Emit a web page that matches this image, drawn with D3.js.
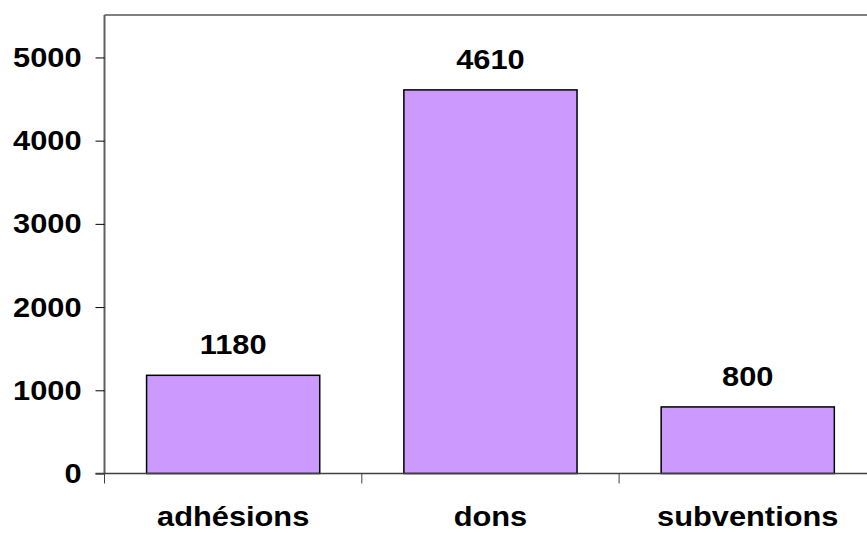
<!DOCTYPE html>
<html>
<head>
<meta charset="utf-8">
<script src="https://cdn.jsdelivr.net/npm/d3@7"></script>
<style>
  body { margin: 0; background: #fff; overflow: hidden; }
  svg { display: block; font-family: "Liberation Sans", Arial, sans-serif; font-weight: bold; }
</style>
</head>
<body>
<script>
// données
const categories = ["adhésions", "dons", "subventions"];
const values = [1180, 4610, 800];
const yTicks = [0, 1000, 2000, 3000, 4000, 5000];

const width = 867, height = 533;
const margin = {top: 15, right: 0, bottom: 60, left: 104.5};
const stretch = 1.1; // le texte de l'original est un peu élargi

const svg = d3.select("body").append("svg")
    .attr("width", width)
    .attr("height", height);

// échelles
const x = d3.scaleBand()
    .domain(categories)
    .range([margin.left, margin.left + 257.3 * 3])
    .paddingInner(0.327)
    .paddingOuter(0.1635);

const y = d3.scaleLinear()
    .domain([0, 5510])
    .range([height - margin.bottom + 0.5, margin.top]);

// cadre : ligne du haut grise
svg.append("line")
    .attr("x1", margin.left).attr("x2", width)
    .attr("y1", margin.top).attr("y2", margin.top)
    .attr("stroke", "#808080").attr("stroke-width", 2);

// barres
svg.append("g")
  .selectAll("rect")
  .data(values)
  .join("rect")
    .attr("x", (d, i) => x(categories[i]))
    .attr("y", d => y(d))
    .attr("width", x.bandwidth())
    .attr("height", d => y(0) - y(d))
    .attr("fill", "#cc99ff")
    .attr("stroke", "#000")
    .attr("stroke-width", 1.5);

// axe Y
const yAxis = svg.append("g")
    .attr("transform", `translate(${margin.left},0)`)
    .call(d3.axisLeft(y).tickValues(yTicks).tickSize(9).tickFormat(d3.format("d")));
yAxis.select(".domain").attr("stroke", "#606060").attr("stroke-width", 2)
    .attr("d", `M0,${y(0)}V${margin.top}`);
yAxis.selectAll(".tick line").attr("stroke", "#000");
yAxis.selectAll("text")
    .attr("x", -23 / stretch)
    .attr("transform", `scale(${stretch},1)`)
    .attr("font-size", 28).attr("font-family", "Liberation Sans, Arial, sans-serif")
    .attr("font-weight", "bold").attr("fill", "#000");

// axe X
const xAxis = svg.append("g")
    .attr("transform", `translate(0,${y(0)})`);
xAxis.append("line")
    .attr("x1", margin.left - 9).attr("x2", width)
    .attr("stroke", "#404040").attr("stroke-width", 1.5);
xAxis.selectAll(".sep")
  .data(categories)
  .join("line")
    .attr("x1", d => x(d) - x.step() * x.paddingOuter())
    .attr("x2", d => x(d) - x.step() * x.paddingOuter())
    .attr("y1", 0).attr("y2", 10)
    .attr("stroke", "#404040").attr("stroke-width", 1);
xAxis.selectAll(".cat")
  .data(categories)
  .join("text")
    .attr("transform", d => `translate(${x(d) + x.bandwidth() / 2},52) scale(${stretch},1)`)
    .attr("text-anchor", "middle")
    .attr("font-size", 28)
    .text(d => d);

// étiquettes de valeurs
svg.append("g")
  .selectAll("text")
  .data(values)
  .join("text")
    .attr("transform", (d, i) => `translate(${x(categories[i]) + x.bandwidth() / 2},${y(d) - 21}) scale(${stretch},1)`)
    .attr("text-anchor", "middle")
    .attr("font-size", 28)
    .text(d => d);
</script>
</body>
</html>
